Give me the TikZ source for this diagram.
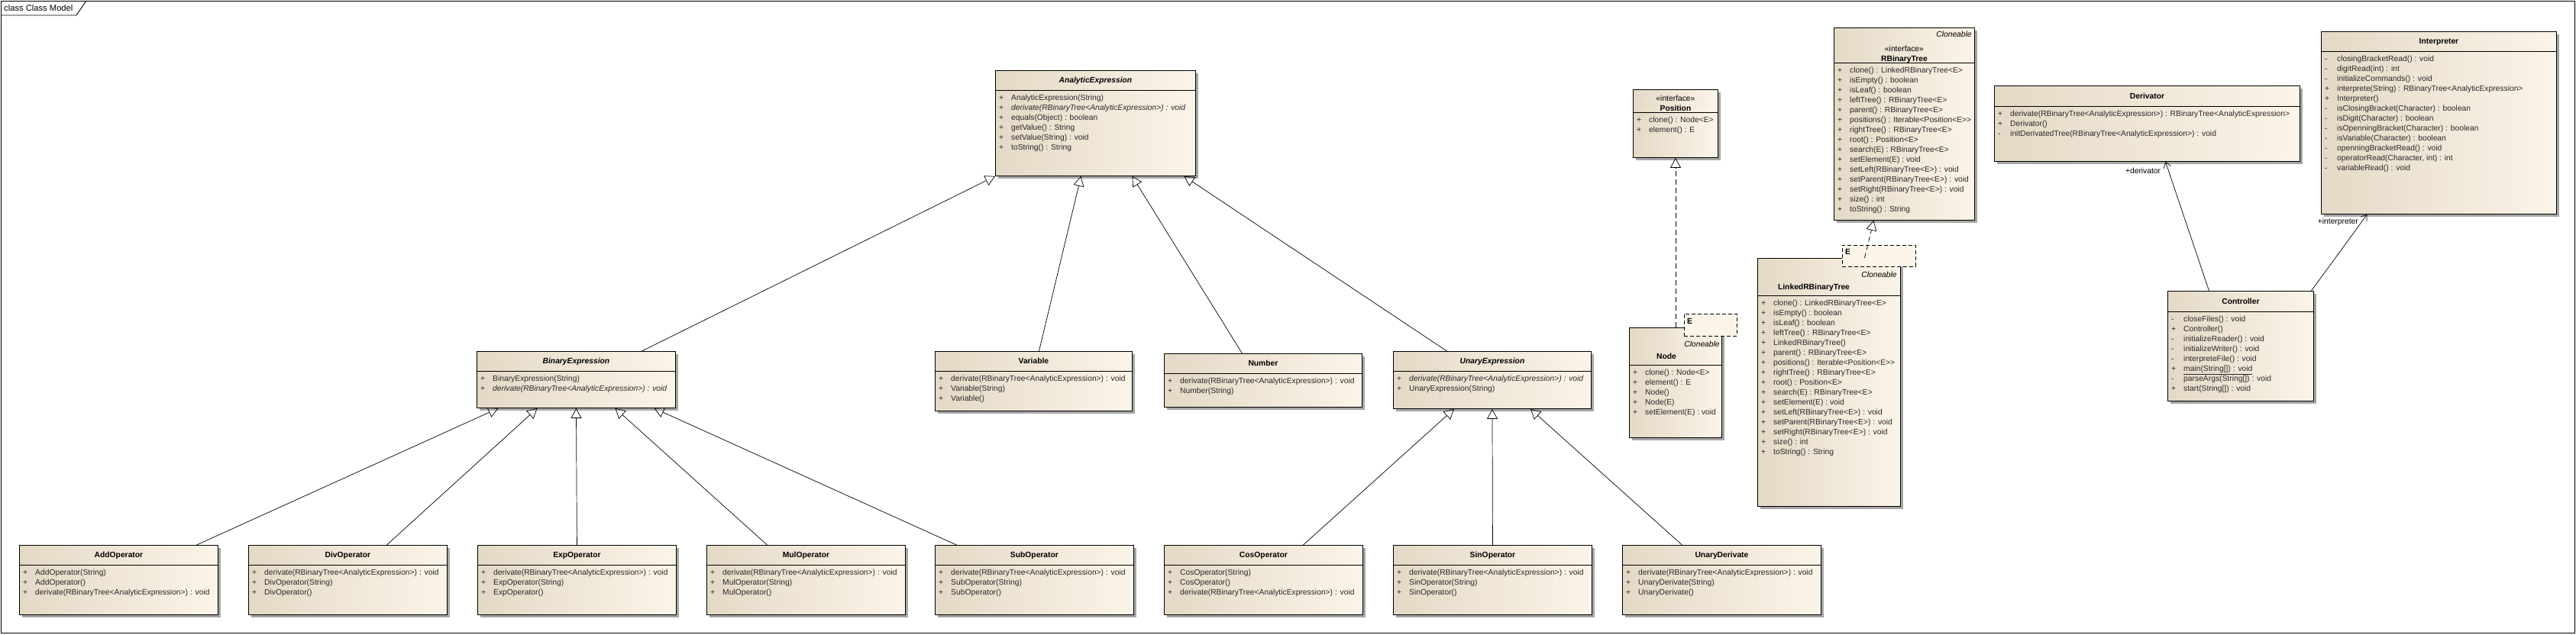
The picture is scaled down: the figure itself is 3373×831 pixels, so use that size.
\documentclass[tikz,border=0pt]{standalone}
\usepackage{fontspec}
\setmainfont{Liberation Sans}
\usetikzlibrary{arrows.meta,shadows,calc}

\definecolor{umlleft}{RGB}{228,217,198}
\definecolor{umlright}{RGB}{251,244,232}
\definecolor{umltext}{RGB}{40,40,40}

\tikzset{
  cls/.style={draw=black, line width=0.9pt, left color=umlleft, right color=umlright,
    drop shadow={shadow xshift=4pt, shadow yshift=-4pt, fill=black!35, opacity=1},
    inner sep=0pt, anchor=north west},
  tmpl/.style={draw=black, line width=0.9pt, dash pattern=on 5pt off 3pt, fill=umlright,
    inner sep=0pt, anchor=north west},
  divider/.style={line width=0.8pt},
  ttl/.style={font=\fontsize{10.3}{12}\selectfont\bfseries, text height=7.4pt, text depth=0pt, inner sep=0pt},
  stereo/.style={font=\fontsize{10.3}{12}\selectfont, text height=7.4pt, text depth=0pt, inner sep=0pt},
  mem/.style={font=\fontsize{10.3}{13}\selectfont, text=umltext, inner sep=0pt, anchor=north west},
  gen/.style={-{Triangle[open, length=13pt, width=14pt]}, line width=0.7pt},
  real/.style={gen, dash pattern=on 7pt off 4pt},
  nav/.style={-{Straight Barb[length=7pt, width=10pt]}, line width=0.7pt},
  role/.style={font=\fontsize{10.3}{12}\selectfont, inner sep=0pt}
}

% class box: name, x, y, width, height, header height, title
\newcommand{\classbox}[7]{%
  \node[cls, minimum width=#4pt, minimum height=#5pt] (#1) at (#2,#3) {};
  \coordinate (#1-hd) at ([yshift=-#6pt]#1.north west);
  \draw[divider] (#1-hd) -- ([yshift=-#6pt]#1.north east);
  \node[ttl] (#1-name) at ($(#1.north)!0.5!([yshift=-#6pt]#1.north)$) {#7};
}
% operations list under the header
\newcommand{\mlist}[2]{%
  \node[mem] (#1-ops) at ([xshift=5pt, yshift=-4.4pt]#1-hd)
    {\begin{tabular}{@{}p{16pt}@{}l@{}}#2\end{tabular}};
}
\newcommand{\drv}{derivate(RBinaryTree<AnalyticExpression>) : void}

\begin{document}
\begin{tikzpicture}[x=1pt, y=-1pt]
  \useasboundingbox (0,0) rectangle (3373,831);

  % diagram frame
  \draw[line width=0.9pt] (1,1) rectangle (3371,829);
  \draw[line width=0.9pt] (1,20) -- (100,20) -- (113,1);
  \node[anchor=west, font=\fontsize{11.2}{13}\selectfont, inner sep=0pt] (frame) at (5,10.5) {class Class Model};

  % expression hierarchy
  \classbox{ae}{1303}{92}{262}{138}{26}{\itshape AnalyticExpression}
  \mlist{ae}{+ & AnalyticExpression(String)\\ + & \textit{\drv}\\ + & equals(Object) : boolean\\
    + & getValue() : String\\ + & setValue(String) : void\\ + & toString() : String}

  \classbox{be}{624}{460}{260}{74}{26}{\itshape BinaryExpression}
  \mlist{be}{+ & BinaryExpression(String)\\ + & \textit{\drv}}

  \classbox{var}{1224}{460}{258}{78}{26}{Variable}
  \mlist{var}{+ & \drv\\ + & Variable(String)\\ + & Variable()}

  \classbox{num}{1524}{463}{259}{70}{26}{Number}
  \mlist{num}{+ & \drv\\ + & Number(String)}

  \classbox{unexp}{1824}{460}{259}{75}{26}{\itshape UnaryExpression}
  \mlist{unexp}{+ & \textit{\drv}\\ + & UnaryExpression(String)}

  \classbox{addop}{25}{714}{260}{91}{26}{AddOperator}
  \mlist{addop}{+ & AddOperator(String)\\ + & AddOperator()\\ + & \drv}

  \classbox{divop}{325}{714}{260}{91}{26}{DivOperator}
  \mlist{divop}{+ & \drv\\ + & DivOperator(String)\\ + & DivOperator()}

  \classbox{expop}{625}{714}{260}{91}{26}{ExpOperator}
  \mlist{expop}{+ & \drv\\ + & ExpOperator(String)\\ + & ExpOperator()}

  \classbox{mulop}{925}{714}{260}{91}{26}{MulOperator}
  \mlist{mulop}{+ & \drv\\ + & MulOperator(String)\\ + & MulOperator()}

  \classbox{subop}{1224}{714}{260}{91}{26}{SubOperator}
  \mlist{subop}{+ & \drv\\ + & SubOperator(String)\\ + & SubOperator()}

  \classbox{cosop}{1524}{714}{260}{91}{26}{CosOperator}
  \mlist{cosop}{+ & CosOperator(String)\\ + & CosOperator()\\ + & \drv}

  \classbox{sinop}{1824}{714}{260}{91}{26}{SinOperator}
  \mlist{sinop}{+ & \drv\\ + & SinOperator(String)\\ + & SinOperator()}

  \classbox{uder}{2124}{714}{260}{91}{26}{UnaryDerivate}
  \mlist{uder}{+ & \drv\\ + & UnaryDerivate(String)\\ + & UnaryDerivate()}

  % tree classes
  \classbox{pos}{2138}{117}{111}{89}{30}{}
  \node[stereo] (pos-st) at ([yshift=-12pt]pos.north) {«interface»};
  \node[ttl] (pos-nm) at ([yshift=-25pt]pos.north) {Position};
  \mlist{pos}{+ & clone() : Node<E>\\ + & element() : E}

  \classbox{rbt}{2401}{36}{184}{252}{46}{}
  \node[stereo, anchor=east, font=\fontsize{10.3}{12}\selectfont\itshape] (rbt-if) at ([xshift=-4pt, yshift=-9pt]rbt.north east) {Cloneable};
  \node[stereo] (rbt-st) at ([yshift=-28pt]rbt.north) {«interface»};
  \node[ttl] (rbt-nm) at ([yshift=-41pt]rbt.north) {RBinaryTree};
  \mlist{rbt}{+ & clone() : LinkedRBinaryTree<E>\\ + & isEmpty() : boolean\\ + & isLeaf() : boolean\\
    + & leftTree() : RBinaryTree<E>\\ + & parent() : RBinaryTree<E>\\ + & positions() : Iterable<Position<E>{}>\\
    + & rightTree() : RBinaryTree<E>\\ + & root() : Position<E>\\ + & search(E) : RBinaryTree<E>\\
    + & setElement(E) : void\\ + & setLeft(RBinaryTree<E>) : void\\ + & setParent(RBinaryTree<E>) : void\\
    + & setRight(RBinaryTree<E>) : void\\ + & size() : int\\ + & toString() : String}

  \classbox{nd}{2133}{429}{121}{144}{49}{}
  \node[stereo, anchor=east, font=\fontsize{10.3}{12}\selectfont\itshape] (nd-if) at ([xshift=-3pt, yshift=-22pt]nd.north east) {Cloneable};
  \node[ttl] (nd-nm) at ([xshift=49pt, yshift=-38pt]nd.north west) {Node};
  \mlist{nd}{+ & clone() : Node<E>\\ + & element() : E\\ + & Node()\\ + & Node(E)\\ + & setElement(E) : void}
  \node[tmpl, minimum width=69pt, minimum height=29pt] (nd-e) at (2205,411) {};
  \node[ttl, anchor=west] (nd-ep) at ([xshift=4pt, yshift=-10pt]nd-e.north west) {E};

  \classbox{lrbt}{2301}{338}{187}{325}{49}{}
  \node[stereo, anchor=east, font=\fontsize{10.3}{12}\selectfont\itshape] (lrbt-if) at ([xshift=-5pt, yshift=-22pt]lrbt.north east) {Cloneable};
  \node[ttl] (lrbt-nm) at ([xshift=74pt, yshift=-38pt]lrbt.north west) {LinkedRBinaryTree};
  \mlist{lrbt}{+ & clone() : LinkedRBinaryTree<E>\\ + & isEmpty() : boolean\\ + & isLeaf() : boolean\\
    + & leftTree() : RBinaryTree<E>\\ + & LinkedRBinaryTree()\\ + & parent() : RBinaryTree<E>\\
    + & positions() : Iterable<Position<E>{}>\\ + & rightTree() : RBinaryTree<E>\\ + & root() : Position<E>\\
    + & search(E) : RBinaryTree<E>\\ + & setElement(E) : void\\ + & setLeft(RBinaryTree<E>) : void\\
    + & setParent(RBinaryTree<E>) : void\\ + & setRight(RBinaryTree<E>) : void\\ + & size() : int\\
    + & toString() : String}
  \node[tmpl, minimum width=96pt, minimum height=28pt] (lrbt-e) at (2412,321) {};
  \node[ttl, anchor=west] (lrbt-ep) at ([xshift=4pt, yshift=-9pt]lrbt-e.north west) {E};

  % application classes
  \classbox{der}{2611}{112}{400}{99}{27}{Derivator}
  \mlist{der}{+ & derivate(RBinaryTree<AnalyticExpression>) : RBinaryTree<AnalyticExpression>\\
    + & Derivator()\\ - & initDerivatedTree(RBinaryTree<AnalyticExpression>) : void}

  \classbox{intp}{3039}{41}{308}{239}{26}{Interpreter}
  \mlist{intp}{- & closingBracketRead() : void\\ - & digitRead(int) : int\\ - & initializeCommands() : void\\
    + & interprete(String) : RBinaryTree<AnalyticExpression>\\ + & Interpreter()\\
    - & isClosingBracket(Character) : boolean\\ - & isDigit(Character) : boolean\\
    - & isOpenningBracket(Character) : boolean\\ - & isVariable(Character) : boolean\\
    - & openningBracketRead() : void\\ - & operatorRead(Character, int) : int\\ - & variableRead() : void}

  \classbox{ctrl}{2838}{381}{191}{144}{27}{Controller}
  \mlist{ctrl}{- & closeFiles() : void\\ + & Controller()\\ - & initializeReader() : void\\
    - & initializeWriter() : void\\ - & interpreteFile() : void\\ + & \underline{main(String[]) : void}\\
    - & parseArgs(String[]) : void\\ + & start(String[]) : void}

  % generalizations
  \draw[gen] ([xshift=86pt]be.north) -- (ae.south west);
  \draw[gen] ([xshift=7pt]var.north) -- ([xshift=-19pt]ae.south);
  \draw[gen] ([xshift=-27.5pt]num.north) -- ([xshift=48pt]ae.south);
  \draw[gen] ([xshift=-59.5pt]unexp.north) -- ([xshift=116pt]ae.south);

  \draw[gen] ([xshift=102pt]addop.north) -- ([xshift=-102pt]be.south);
  \draw[gen] ([xshift=51pt]divop.north) -- ([xshift=-51pt]be.south);
  \draw[gen] (expop.north) -- (be.south);
  \draw[gen] ([xshift=-51pt]mulop.north) -- ([xshift=51pt]be.south);
  \draw[gen] ([xshift=-102pt]subop.north) -- ([xshift=102pt]be.south);

  \draw[gen] ([xshift=52pt]cosop.north) -- ([xshift=-50pt]unexp.south);
  \draw[gen] (sinop.north) -- (unexp.south);
  \draw[gen] ([xshift=-52pt]uder.north) -- ([xshift=50pt]unexp.south);

  % realizations
  \draw[real] (nd.north) -- (pos.south);
  \draw[real] ([xshift=46.5pt]lrbt.north) -- ([xshift=-40pt]rbt.south);

  % associations
  \draw[nav] ([xshift=-41.5pt]ctrl.north) -- ([xshift=24pt]der.south)
    node[role, pos=0.93, anchor=east, xshift=-10pt] (der-role) {+derivator};
  \draw[nav] ([xshift=92.5pt]ctrl.north) -- ([xshift=-94pt]intp.south)
    node[role, pos=0.9, anchor=east, xshift=-4pt] (intp-role) {+interpreter};
\end{tikzpicture}
\end{document}
